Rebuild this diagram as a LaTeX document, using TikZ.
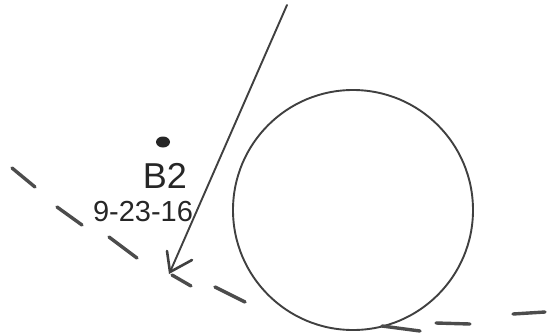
\documentclass[tikz,border=0pt]{standalone}
\usetikzlibrary{shapes.geometric}
\usepackage{fontspec}
\setmainfont{Liberation Sans}
\begin{document}
\begin{tikzpicture}[x=1pt,y=-1pt,
  pen/.style={draw=black!75,line width=1.9pt,line cap=round},
  marker/.style={draw=black!70,line width=3.4pt,line cap=round},
  label/.style={inner sep=0pt,text=black!85}]
\useasboundingbox (0,0) rectangle (549,335);
% circle
\node[circle,pen,minimum size=240pt,inner sep=0pt] (circ) at (353,210) {};
% dot
\node[ellipse,fill=black!85,minimum width=14pt,minimum height=11pt,inner sep=0pt] (dot) at (163,142) {};
% labels
\node[label,font=\fontsize{36}{36}\selectfont] (b2) at (165,176) {B2};
\node[label,font=\fontsize{29}{29}\selectfont] (date) at (143,212) {9-23-16};
% arrow
\coordinate (top) at (287,5);
\coordinate (tip) at (170,272);
\coordinate (barbL) at (167,251);
\coordinate (barbR) at (192,260);
\draw[pen] (top) -- (tip);
\draw[pen,line width=2.6pt] (barbL) -- (tip) -- (barbR);
% dashed trajectory
\coordinate (d1a) at (12,168); \coordinate (d1b) at (35,187);
\coordinate (d2a) at (57,207); \coordinate (d2b) at (82,225);
\coordinate (d3a) at (109,237); \coordinate (d3b) at (137,258);
\coordinate (d4a) at (172,275); \coordinate (d4b) at (191,286);
\coordinate (d5a) at (215,287); \coordinate (d5b) at (245,302);
\coordinate (d6a) at (382,326); \coordinate (d6b) at (420,331);
\coordinate (d7a) at (436,323); \coordinate (d7b) at (470,324);
\coordinate (d8a) at (513,314); \coordinate (d8b) at (545,312);
\foreach \i in {1,...,8} \draw[marker] (d\i a) -- (d\i b);
\end{tikzpicture}
\end{document}
